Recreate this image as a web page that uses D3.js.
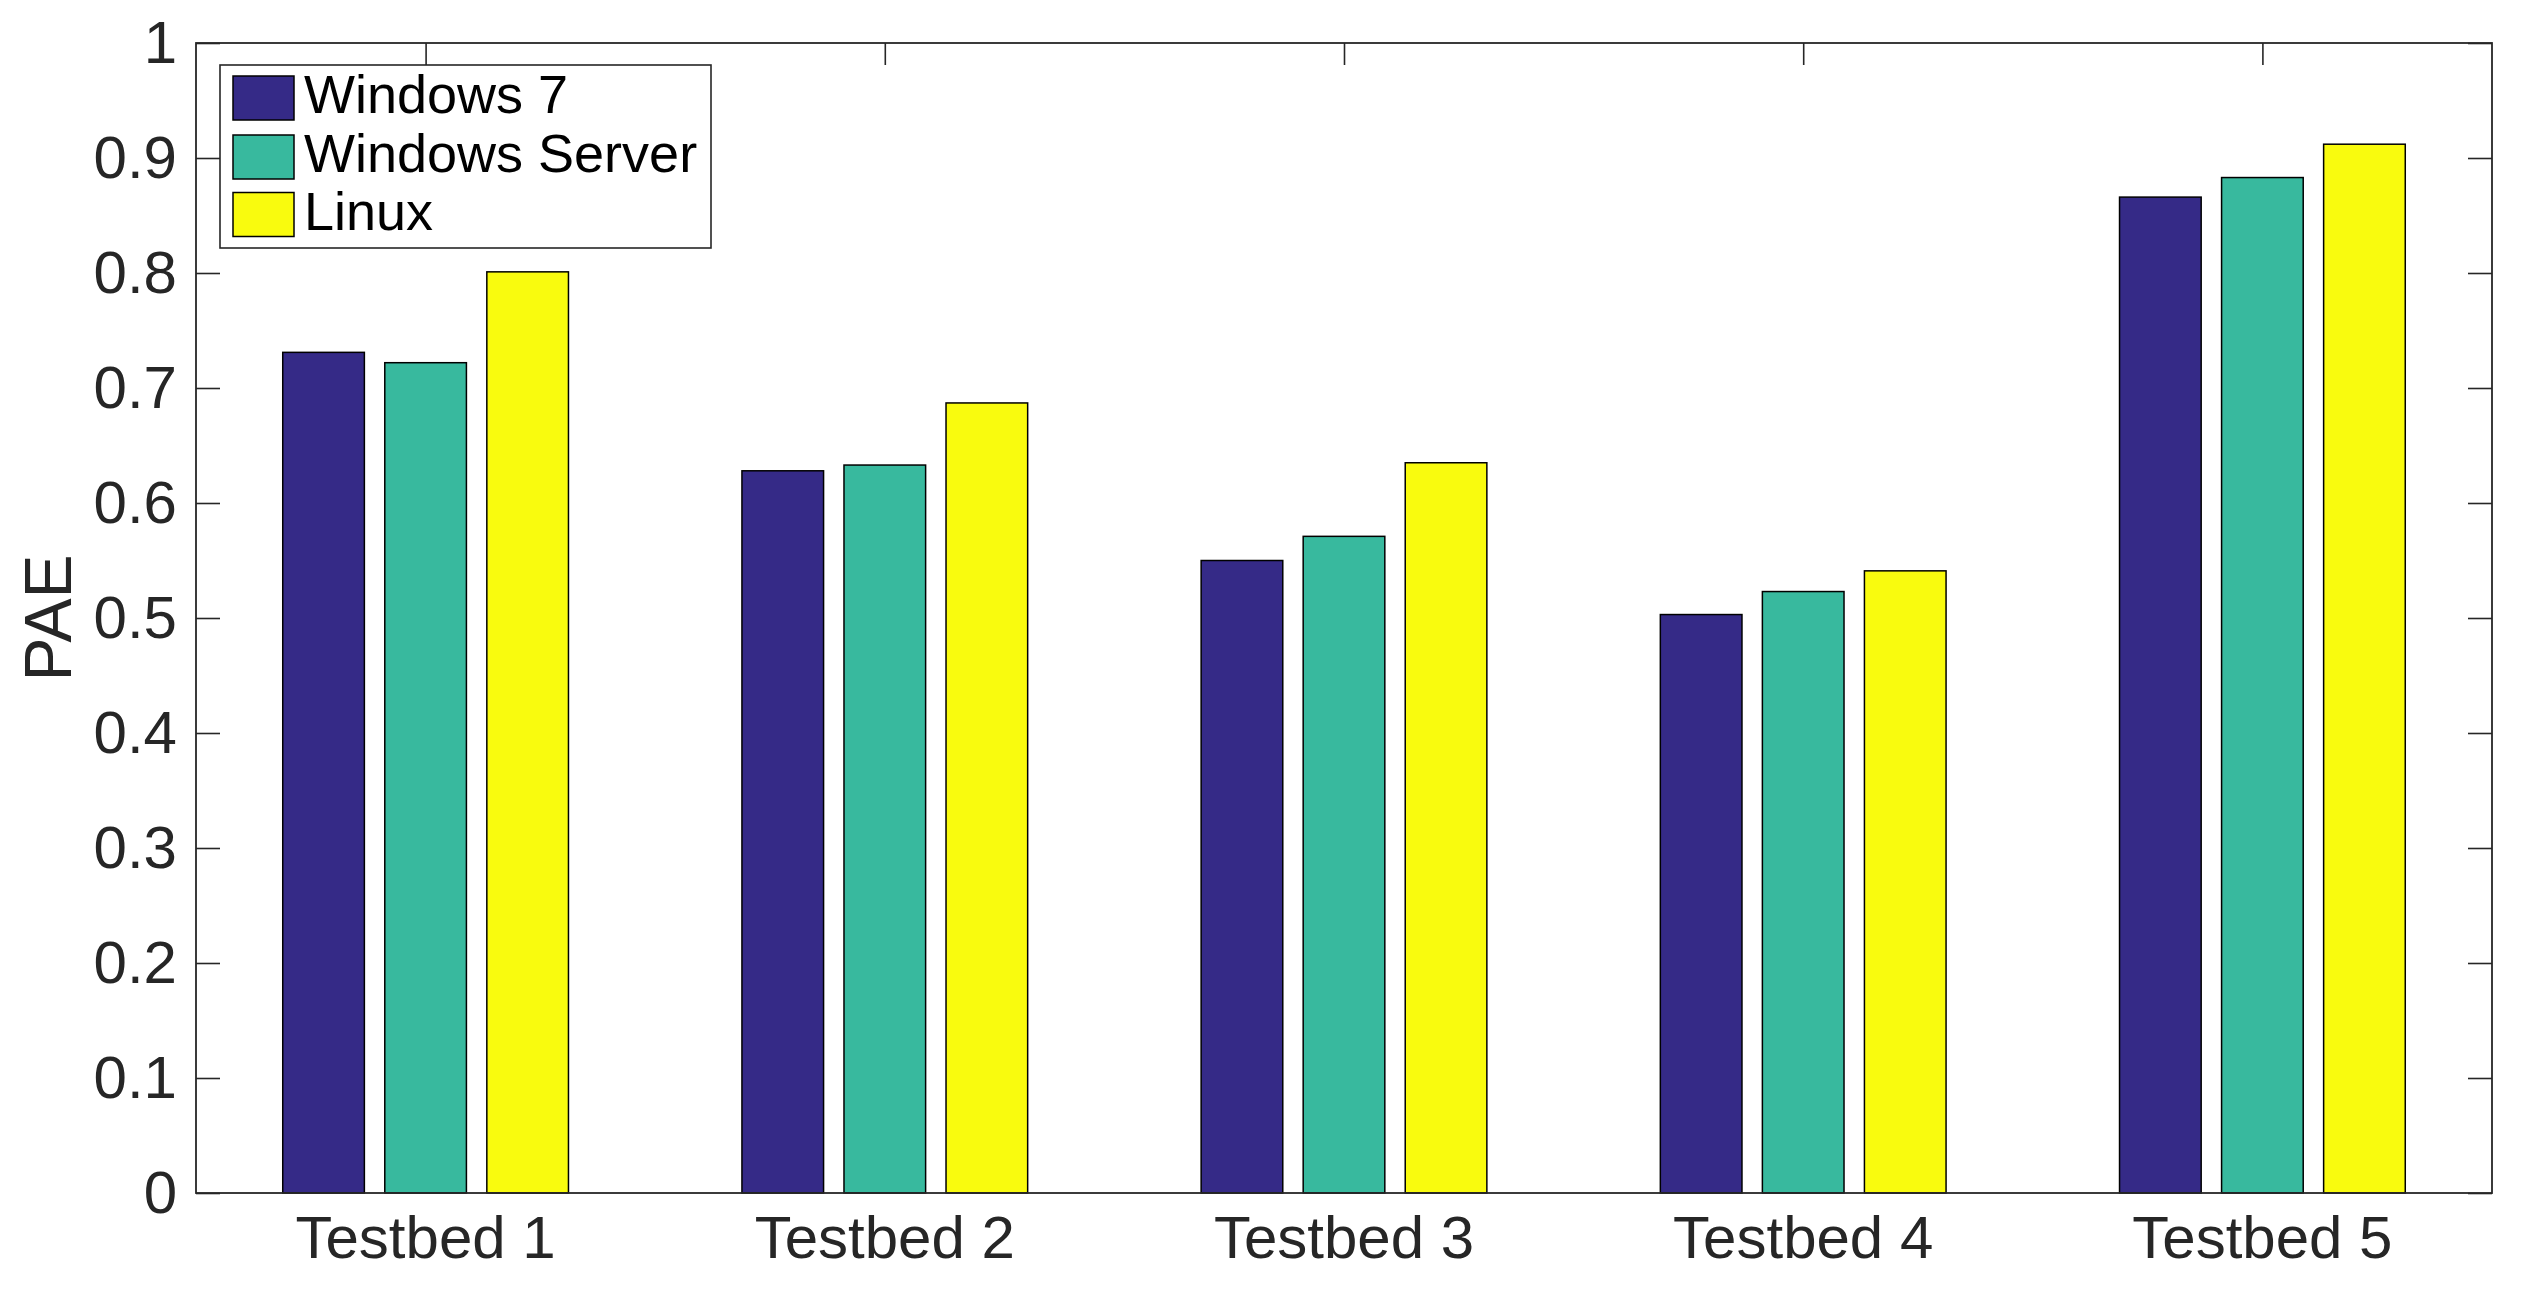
<!DOCTYPE html>
<html>
<head>
<meta charset="utf-8">
<script src="https://cdn.jsdelivr.net/npm/d3@7"></script>
<style>
  html, body { margin: 0; padding: 0; background: #fff; }
  svg { display: block; font-family: "Liberation Sans", Arial, Helvetica, sans-serif; }
</style>
</head>
<body>
<svg id="chart" width="2522" height="1300"></svg>
<script>
const categories = ["Testbed 1", "Testbed 2", "Testbed 3", "Testbed 4", "Testbed 5"];
const seriesNames = ["Windows 7", "Windows Server", "Linux"];
const windows7 = [0.731, 0.628, 0.550, 0.503, 0.866];
const windowsServer = [0.722, 0.633, 0.571, 0.523, 0.883];
const linux = [0.801, 0.687, 0.635, 0.541, 0.912];
const seriesColors = ["#352a87", "#38b99e", "#f9fb0e"];
const yTicks = [0, 0.1, 0.2, 0.3, 0.4, 0.5, 0.6, 0.7, 0.8, 0.9, 1];
const yTickLabels = ["0", "0.1", "0.2", "0.3", "0.4", "0.5", "0.6", "0.7", "0.8", "0.9", "1"];
const yLabel = "PAE";

const seriesValues = [windows7, windowsServer, linux];

(function () {
const svg = d3.select("#chart");
const pLeft = 196, pRight = 2492, pTop = 43, pBottom = 1193;
const axisColor = "#262626";

const x = d3.scaleLinear().domain([0.5, categories.length + 0.5]).range([pLeft, pRight]);
const y = d3.scaleLinear().domain([0, 1]).range([pBottom, pTop]);
const groupWidthUnits = 2 / 3;
const pxPerUnit = x(1) - x(0);

svg.append("rect").attr("x", 0).attr("y", 0).attr("width", 2522).attr("height", 1300).attr("fill", "#fff");

// bottom ticks (behind bars)
const gTicks = svg.append("g").attr("stroke", axisColor).attr("stroke-width", 1.6);
categories.forEach((c, i) => {
  const cx = x(i + 1);
  gTicks.append("line").attr("x1", cx).attr("x2", cx).attr("y1", pBottom).attr("y2", pBottom - 22);
});

// bars
const inner = d3.scaleBand().domain(d3.range(seriesNames.length))
  .range([-groupWidthUnits / 2 * pxPerUnit, groupWidthUnits / 2 * pxPerUnit])
  .paddingInner(0.2).paddingOuter(0.1);

const gBars = svg.append("g");
seriesValues.forEach((vals, s) => {
  gBars.selectAll(null).data(vals).enter().append("rect")
    .attr("x", (d, i) => x(i + 1) + inner(s))
    .attr("width", inner.bandwidth())
    .attr("y", d => y(d))
    .attr("height", d => y(0) - y(d))
    .attr("fill", seriesColors[s])
    .attr("stroke", "#000")
    .attr("stroke-width", 1.5);
});

// left axis
const yAxisL = d3.axisLeft(y).tickValues(yTicks).tickFormat((d, i) => yTickLabels[i]).tickSize(-24).tickPadding(19);
const gy = svg.append("g").attr("transform", `translate(${pLeft},0)`).call(yAxisL);
gy.select(".domain").remove();
gy.selectAll(".tick line").attr("stroke", axisColor).attr("stroke-width", 1.6);
gy.selectAll(".tick text").attr("fill", axisColor).attr("font-size", 60)
  .attr("font-family", "'Liberation Sans', Arial, sans-serif");

// right axis
const yAxisR = d3.axisRight(y).tickValues(yTicks).tickFormat("").tickSize(-24);
const gyr = svg.append("g").attr("transform", `translate(${pRight},0)`).call(yAxisR);
gyr.select(".domain").remove();
gyr.selectAll(".tick line").attr("stroke", axisColor).attr("stroke-width", 1.6);

// top ticks
const xAxisT = d3.axisTop(x).tickValues(categories.map((c, i) => i + 1)).tickFormat("").tickSize(-22);
const gxt = svg.append("g").attr("transform", `translate(0,${pTop})`).call(xAxisT);
gxt.select(".domain").remove();
gxt.selectAll(".tick line").attr("stroke", axisColor).attr("stroke-width", 1.6);

// x tick labels
svg.append("g").selectAll("text").data(categories).enter().append("text")
  .attr("x", (d, i) => x(i + 1))
  .attr("y", 1258)
  .attr("text-anchor", "middle")
  .attr("font-size", 60)
  .attr("fill", axisColor)
  .text(d => d);

// box
svg.append("rect").attr("x", pLeft).attr("y", pTop).attr("width", pRight - pLeft).attr("height", pBottom - pTop)
  .attr("fill", "none").attr("stroke", axisColor).attr("stroke-width", 1.8);

// y label
svg.append("text")
  .attr("transform", `translate(71,${(pTop + pBottom) / 2}) rotate(-90)`)
  .attr("text-anchor", "middle")
  .attr("font-size", 66)
  .attr("fill", axisColor)
  .text(yLabel);

// legend
const lg = svg.append("g");
lg.append("rect").attr("x", 220).attr("y", 65).attr("width", 491).attr("height", 183)
  .attr("fill", "#fff").attr("stroke", axisColor).attr("stroke-width", 1.6);
const legendRowY = [98, 157, 214.5];
seriesNames.forEach((name, s) => {
  lg.append("rect").attr("x", 233).attr("y", legendRowY[s] - 22).attr("width", 61).attr("height", 44)
    .attr("fill", seriesColors[s]).attr("stroke", "#000").attr("stroke-width", 1.5);
  lg.append("text").attr("x", 304).attr("y", legendRowY[s] + 15)
    .attr("font-size", 54).attr("fill", "#000").text(name);
});
})();
</script>
</body>
</html>
